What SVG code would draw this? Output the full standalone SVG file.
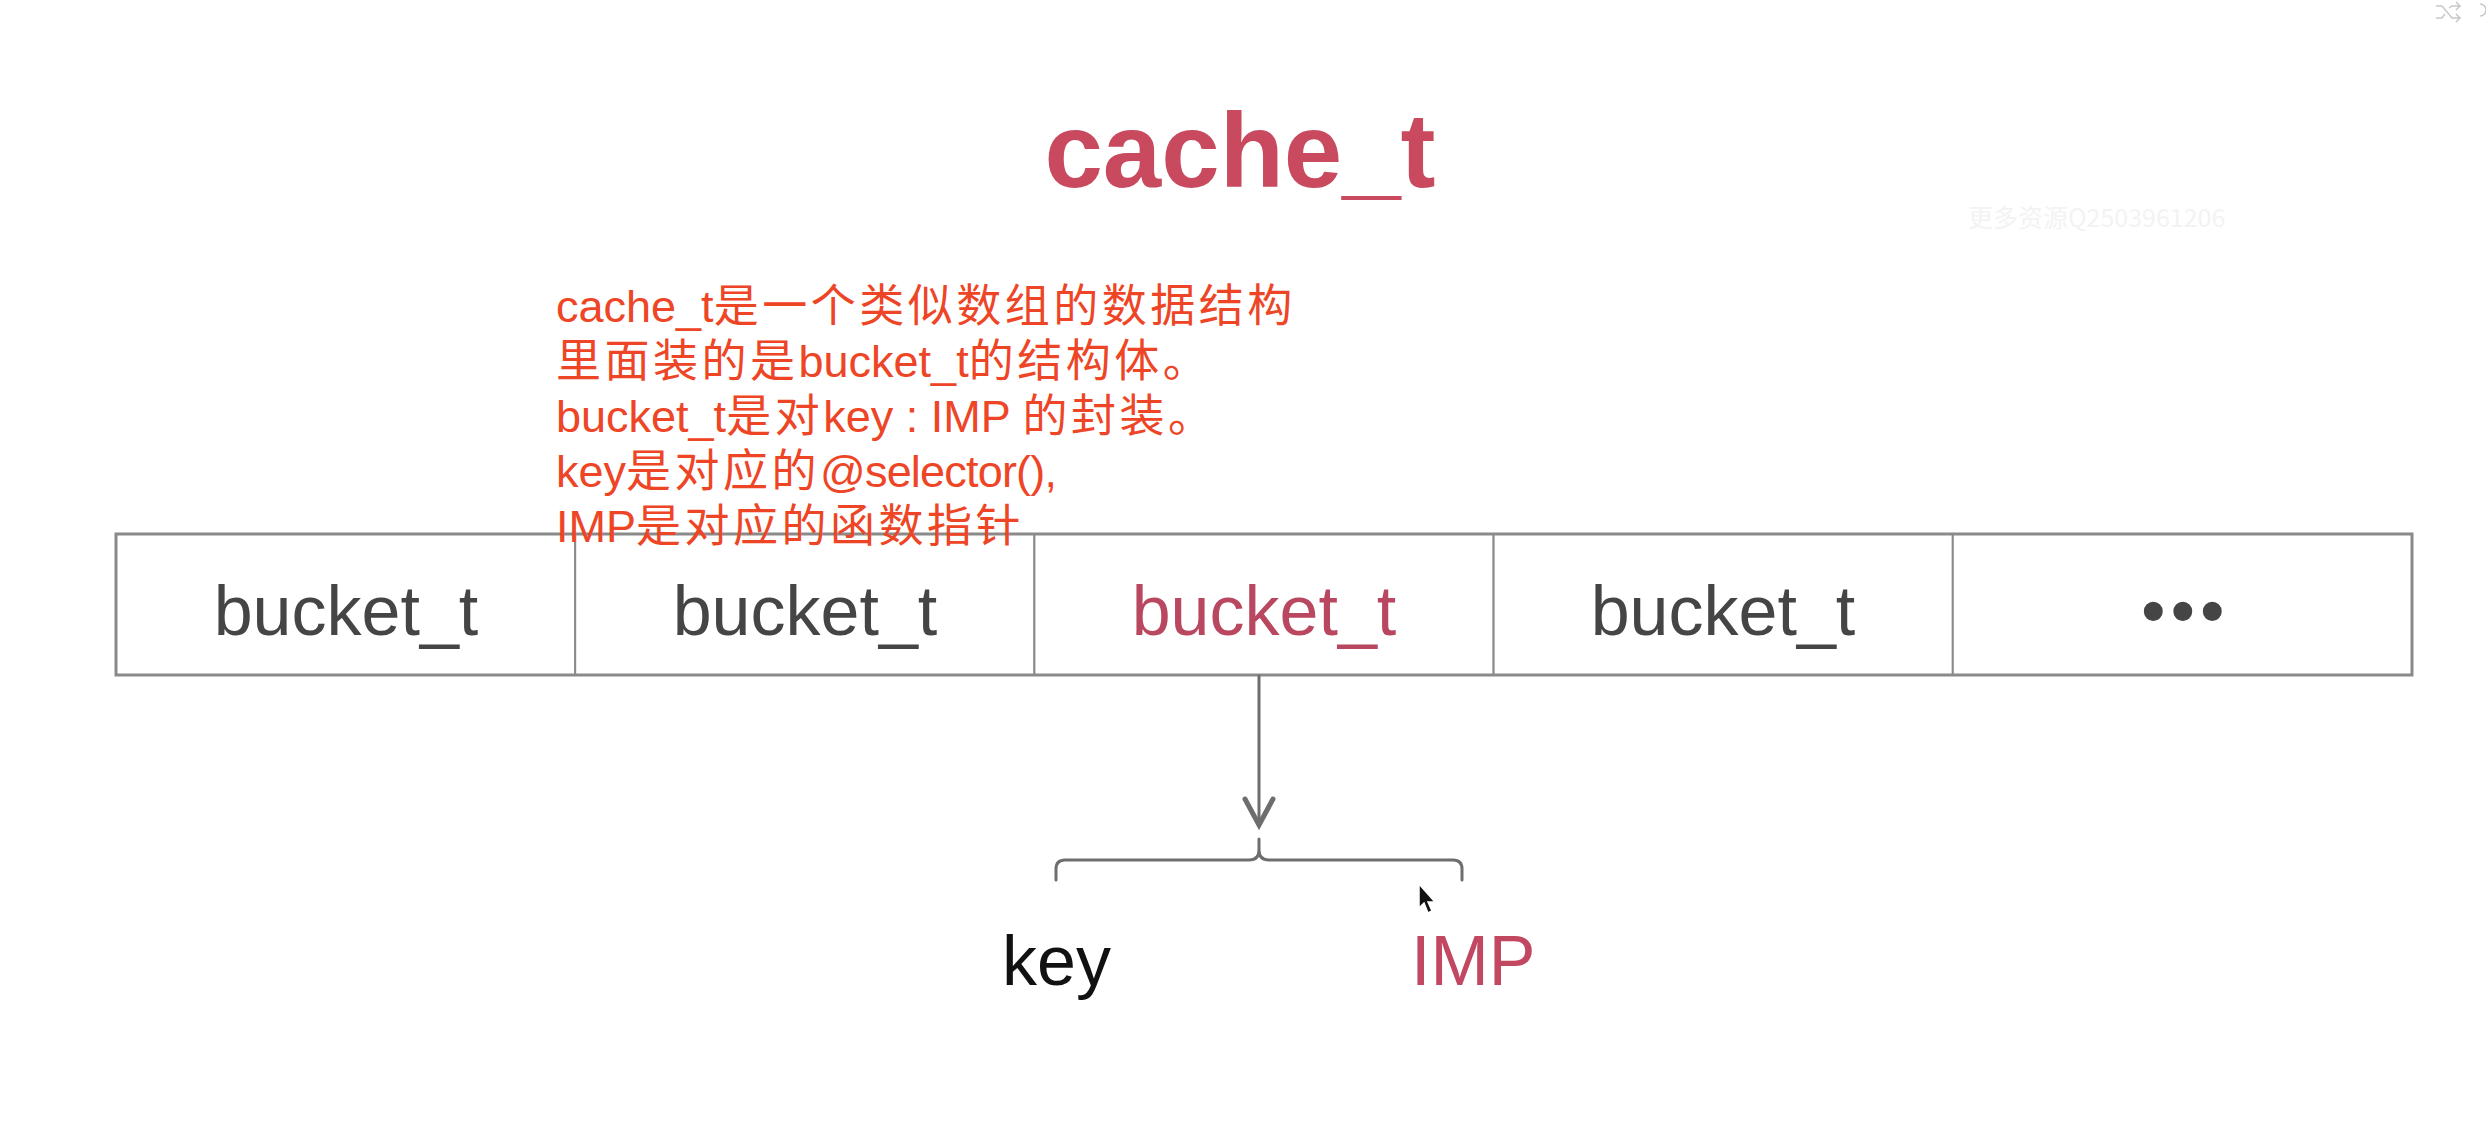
<svg xmlns="http://www.w3.org/2000/svg" width="2486" height="1134" viewBox="0 0 2486 1134">
  <defs>
    <style>
      .title { font-family: "Liberation Sans", Arial, sans-serif; font-weight: bold; font-size: 105px; fill: #C94A5E; }
      .note { font-family: "Liberation Sans", "Noto Sans CJK SC", sans-serif; font-size: 45px; fill: #EE4526; }
      .cj { letter-spacing: 3.5px; }
      .cell { fill: #ffffff; stroke: #8a8a8a; stroke-width: 2; }
      .cellText { font-family: "Liberation Sans", Arial, sans-serif; font-size: 70px; fill: #454545; text-anchor: middle; }
      .hot { fill: #B8475F; }
      .conn { fill: none; stroke: #6e6e6e; stroke-width: 3; stroke-linecap: round; stroke-linejoin: round; }
      .head { fill: none; stroke: #6e6e6e; stroke-width: 5; stroke-linecap: round; stroke-linejoin: miter; }
      .label { font-family: "Liberation Sans", Arial, sans-serif; font-size: 70px; }
      .wm { font-family: "Noto Sans CJK SC", "Liberation Sans", sans-serif; font-size: 25px; fill: #f3f3f3; }
    </style>
  </defs>

  <rect width="2486" height="1134" fill="#ffffff"/>

  <g id="ui-icons" fill="none" stroke="#c8c8c8" stroke-width="1.5">
    <path d="M2436,6 h6 l10,12 h8 M2456,14 l4,4 l-4,4 M2436,18 h6 l3,-4 M2449,8 l3,-2 h8 M2456,2 l4,4 l-4,4"/>
    <path d="M2480,4 a6,6 0 1 1 0,12"/>
  </g>

  <g id="watermark">
    <text class="wm" x="1968" y="227">更多资源Q2503961206</text>
  </g>

  <g id="title">
    <text class="title" x="1240" y="187" text-anchor="middle">cache_t</text>
  </g>

  <g id="array">
    <g id="cell-1">
      <rect class="cell" x="116" y="534" width="459.2" height="141"/>
      <text class="cellText" x="346" y="635">bucket_t</text>
    </g>
    <g id="cell-2">
      <rect class="cell" x="575.2" y="534" width="459.2" height="141"/>
      <text class="cellText" x="805" y="635">bucket_t</text>
    </g>
    <g id="cell-3">
      <rect class="cell" x="1034.4" y="534" width="459.2" height="141"/>
      <text class="cellText hot" x="1264" y="635">bucket_t</text>
    </g>
    <g id="cell-4">
      <rect class="cell" x="1493.6" y="534" width="459.2" height="141"/>
      <text class="cellText" x="1723" y="635">bucket_t</text>
    </g>
    <g id="cell-5">
      <rect class="cell" x="1952.8" y="534" width="459.2" height="141"/>
      <text class="cellText" x="2186" y="633" style="font-size:66px;font-weight:bold;letter-spacing:6.4px">•••</text>
    </g>
    <rect x="116" y="534" width="2296" height="141" fill="none" stroke="#8a8a8a" stroke-width="3"/>
  </g>

  <g id="annotation">
    <text class="note" x="556" y="322">cache_t<tspan class="cj">是一个类似数组的数据结构</tspan></text>
    <text class="note" x="556" y="377"><tspan class="cj">里面装的是</tspan>bucket_t<tspan class="cj">的结构体。</tspan></text>
    <text class="note" x="556" y="432">bucket_t<tspan class="cj">是对</tspan>key : IMP <tspan class="cj">的封装。</tspan></text>
    <text class="note" x="556" y="487">key<tspan class="cj">是对应的</tspan><tspan style="letter-spacing:-0.8px">@selector(),</tspan></text>
    <text class="note" x="556" y="542">IMP<tspan class="cj">是对应的函数指针</tspan></text>
  </g>

  <g id="connectors">
    <path class="conn" d="M1259,676 L1259,823"/>
    <path class="head" d="M1245,799 L1259,825 L1273,799"/>
    <path class="conn" d="M1056,880 V869 Q1056,860 1065,860 H1249 Q1259,860 1259,850 V839 M1259,850 Q1259,860 1269,860 H1453 Q1462,860 1462,869 V880"/>
  </g>

  <g id="key">
    <text class="label" x="1002" y="985" fill="#111111">key</text>
  </g>
  <g id="imp">
    <text class="label" x="1411" y="985" fill="#C24862">IMP</text>
  </g>

  <g id="cursor">
    <path d="M1419,884 L1419,908 L1424,903 L1428,913 L1432,911 L1428,902 L1435,902 Z" fill="#111111" stroke="#ffffff" stroke-width="1.5"/>
  </g>
</svg>
